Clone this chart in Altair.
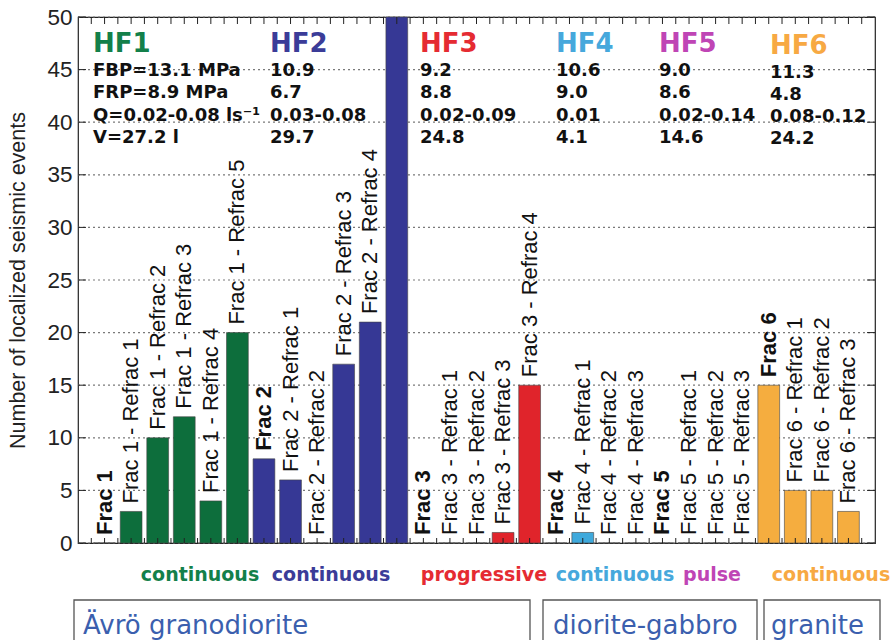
import altair as alt
import pandas as pd

# ---------------- data ----------------
groups = ["HF1", "HF2", "HF3", "HF4", "HF5", "HF6"]
bar_colors = ["#0d6e3c", "#363895", "#e0242b", "#3ea9dc", "#c040b3", "#f5ad3f"]
text_colors = ["#13804a", "#3b3c98", "#e52b32", "#46a8dc", "#bf45b5", "#f7a943"]

bar_labels = [
    "Frac 1", "Frac 1 - Refrac 1", "Frac 1 - Refrac 2", "Frac 1 - Refrac 3", "Frac 1 - Refrac 4", "Frac 1 - Refrac 5",
    "Frac 2", "Frac 2 - Refrac 1", "Frac 2 - Refrac 2", "Frac 2 - Refrac 3", "Frac 2 - Refrac 4", "",
    "Frac 3", "Frac 3 - Refrac 1", "Frac 3 - Refrac 2", "Frac 3 - Refrac 3", "Frac 3 - Refrac 4",
    "Frac 4", "Frac 4 - Refrac 1", "Frac 4 - Refrac 2", "Frac 4 - Refrac 3",
    "Frac 5", "Frac 5 - Refrac 1", "Frac 5 - Refrac 2", "Frac 5 - Refrac 3",
    "Frac 6", "Frac 6 - Refrac 1", "Frac 6 - Refrac 2", "Frac 6 - Refrac 3",
]
bar_groups = ["HF1"] * 6 + ["HF2"] * 6 + ["HF3"] * 5 + ["HF4"] * 4 + ["HF5"] * 4 + ["HF6"] * 4
event_counts = [0, 3, 10, 12, 4, 20,
                8, 6, 0, 17, 21, 50,
                0, 0, 0, 1, 15,
                0, 1, 0, 0,
                0, 0, 0, 0,
                15, 5, 5, 3]

fbp = ["FBP=13.1 MPa", "10.9", "9.2", "10.6", "9.0", "11.3"]
frp = ["FRP=8.9 MPa", "6.7", "8.8", "9.0", "8.6", "4.8"]
flow = ["Q=0.02-0.08 ls\u207b\u00b9", "0.03-0.08", "0.02-0.09", "0.01", "0.02-0.14", "0.08-0.12"]
volume = ["V=27.2 l", "29.7", "24.8", "4.1", "14.6", "24.2"]
modes = ["continuous", "continuous", "progressive", "continuous", "pulse", "continuous"]
rocks = ["\u00c4vr\u00f6 granodiorite", "diorite-gabbro", "granite"]

y_ticks = [0, 5, 10, 15, 20, 25, 30, 35, 40, 45, 50]
x_minor_ticks = [i / 2 for i in range(1, 60)]

# ---------------- layout constants (pixels, plot coordinates) ----------------
W, H = 797, 526
header_x = [15, 192, 342, 478, 581, 692]
header_dy = [0, 0, 0, 0, 0, 1.5]
mode_x = [122, 253, 406, 537, 634, 753]
rock_boxes = [(-4, 452), (465, 679), (686, 802)]
rock_text_x = [5, 475, 693]

df = pd.DataFrame({
    "label": bar_labels,
    "group": bar_groups,
    "events": event_counts,
    "slot": list(range(1, len(bar_labels) + 1)),
})
df["kind"] = ["none" if not l else ("refrac" if "Refrac" in l else "frac") for l in bar_labels]

xs = alt.Scale(domain=[0, 30], nice=False, zero=False)
ys = alt.Scale(domain=[0, 50], nice=False, zero=True)

yaxis = alt.Axis(
    values=y_ticks, tickSize=0, labelPadding=6, labelFont="Liberation Sans", labelFontSize=22.5,
    labelColor="#222", domain=False, grid=False,
    title="Number of localized seismic events", titleFont="Liberation Sans", titleFontSize=21.5,
    titleFontWeight="normal", titleColor="#222", titleAngle=270, titleX=-60, titleY=H / 2,
    titleAlign="center", titleBaseline="middle",
)

bars = alt.Chart(df).transform_calculate(
    lo="datum.slot - 0.41", hi="datum.slot + 0.41", base="0"
).mark_bar(stroke="#444", strokeWidth=0.6).encode(
    x=alt.X("lo:Q", scale=xs, axis=None),
    x2="hi:Q",
    y=alt.Y("events:Q", scale=ys, axis=yaxis),
    y2="base:Q",
    color=alt.Color("group:N", scale=alt.Scale(domain=groups, range=bar_colors), legend=None),
)

def bar_text(kind, weight):
    return alt.Chart(df).transform_filter(f"datum.kind == '{kind}'").mark_text(
        angle=270, align="left", baseline="middle", dx=8, font="Liberation Sans",
        fontSize=22, fontWeight=weight, color="#111",
    ).encode(
        x=alt.X("slot:Q", scale=xs, axis=None),
        y=alt.Y("events:Q", scale=ys, axis=yaxis),
        text="label:N",
    )

tick_df = pd.DataFrame({"t": x_minor_ticks})
ytick_df = pd.DataFrame({"events": y_ticks})
bottom_ticks = alt.Chart(tick_df).mark_rule(color="#222", strokeWidth=1).encode(
    x=alt.X("t:Q", scale=xs, axis=None), y=alt.value(H), y2=alt.value(H - 5))
top_ticks = alt.Chart(tick_df).mark_rule(color="#222", strokeWidth=1).encode(
    x=alt.X("t:Q", scale=xs, axis=None), y=alt.value(0), y2=alt.value(7))
left_ticks = alt.Chart(ytick_df).mark_rule(color="#222", strokeWidth=1).encode(
    y=alt.Y("events:Q", scale=ys, axis=yaxis), x=alt.value(0), x2=alt.value(8))
right_ticks = alt.Chart(ytick_df).mark_rule(color="#222", strokeWidth=1).encode(
    y=alt.Y("events:Q", scale=ys, axis=yaxis), x=alt.value(W), x2=alt.value(W - 8))
grid_lines = alt.Chart(ytick_df).mark_rule(color="#7a7a7a", strokeWidth=1.2, strokeDash=[2, 3]).encode(
    y=alt.Y("events:Q", scale=ys, axis=yaxis), x=alt.value(0), x2=alt.value(W))

hdr = pd.DataFrame({
    "group": groups,
    "params": [f"{a}\n{b}\n{c}\n{d}" for a, b, c, d in zip(fbp, frp, flow, volume)],
    "mode": modes,
})

layers = [grid_lines, bars, bar_text("refrac", "normal"), bar_text("frac", "bold"),
          bottom_ticks, top_ticks, left_ticks, right_ticks]

for i, g in enumerate(groups):
    sub = alt.Chart(hdr).transform_filter(f"datum.group == '{g}'")
    layers.append(sub.mark_text(
        align="left", baseline="alphabetic", font="DejaVu Sans", fontWeight="bold",
        fontSize=26, color=text_colors[i],
    ).encode(x=alt.value(header_x[i]), y=alt.value(35 + header_dy[i]), text="group:N"))
    layers.append(sub.mark_text(
        align="left", baseline="alphabetic", font="DejaVu Sans", fontWeight="bold",
        fontSize=18, color="#111", lineBreak="\n", lineHeight=22.3,
    ).encode(x=alt.value(header_x[i]), y=alt.value(59 + header_dy[i]), text="params:N"))
    layers.append(sub.mark_text(
        align="center", baseline="alphabetic", font="DejaVu Sans", fontWeight="bold",
        fontSize=19, color=text_colors[i],
    ).encode(x=alt.value(mode_x[i]), y=alt.value(564), text="mode:N"))

rock_df = pd.DataFrame({"rock": rocks})
for i, r in enumerate(rocks):
    sub = alt.Chart(rock_df).transform_filter(f"datum.rock == '{r}'")
    x0, x1 = rock_boxes[i]
    layers.append(sub.mark_rect(fillOpacity=0, stroke="#555", strokeWidth=1.3).encode(
        x=alt.value(x0), x2=alt.value(x1), y=alt.value(583), y2=alt.value(645)))
    layers.append(sub.mark_text(
        align="left", baseline="alphabetic", font="DejaVu Sans", fontSize=26, color="#3b5fae",
    ).encode(x=alt.value(rock_text_x[i]), y=alt.value(617), text="rock:N"))

chart = alt.layer(*layers).properties(
    width=W, height=H,
    padding={"left": 78, "top": 17, "right": 19, "bottom": 97},
    autosize=alt.AutoSizeParams(type="none"),
).configure_view(stroke="#222", strokeWidth=1.2)

chart.save("out.html", embed_options={"renderer": "svg", "actions": False})
